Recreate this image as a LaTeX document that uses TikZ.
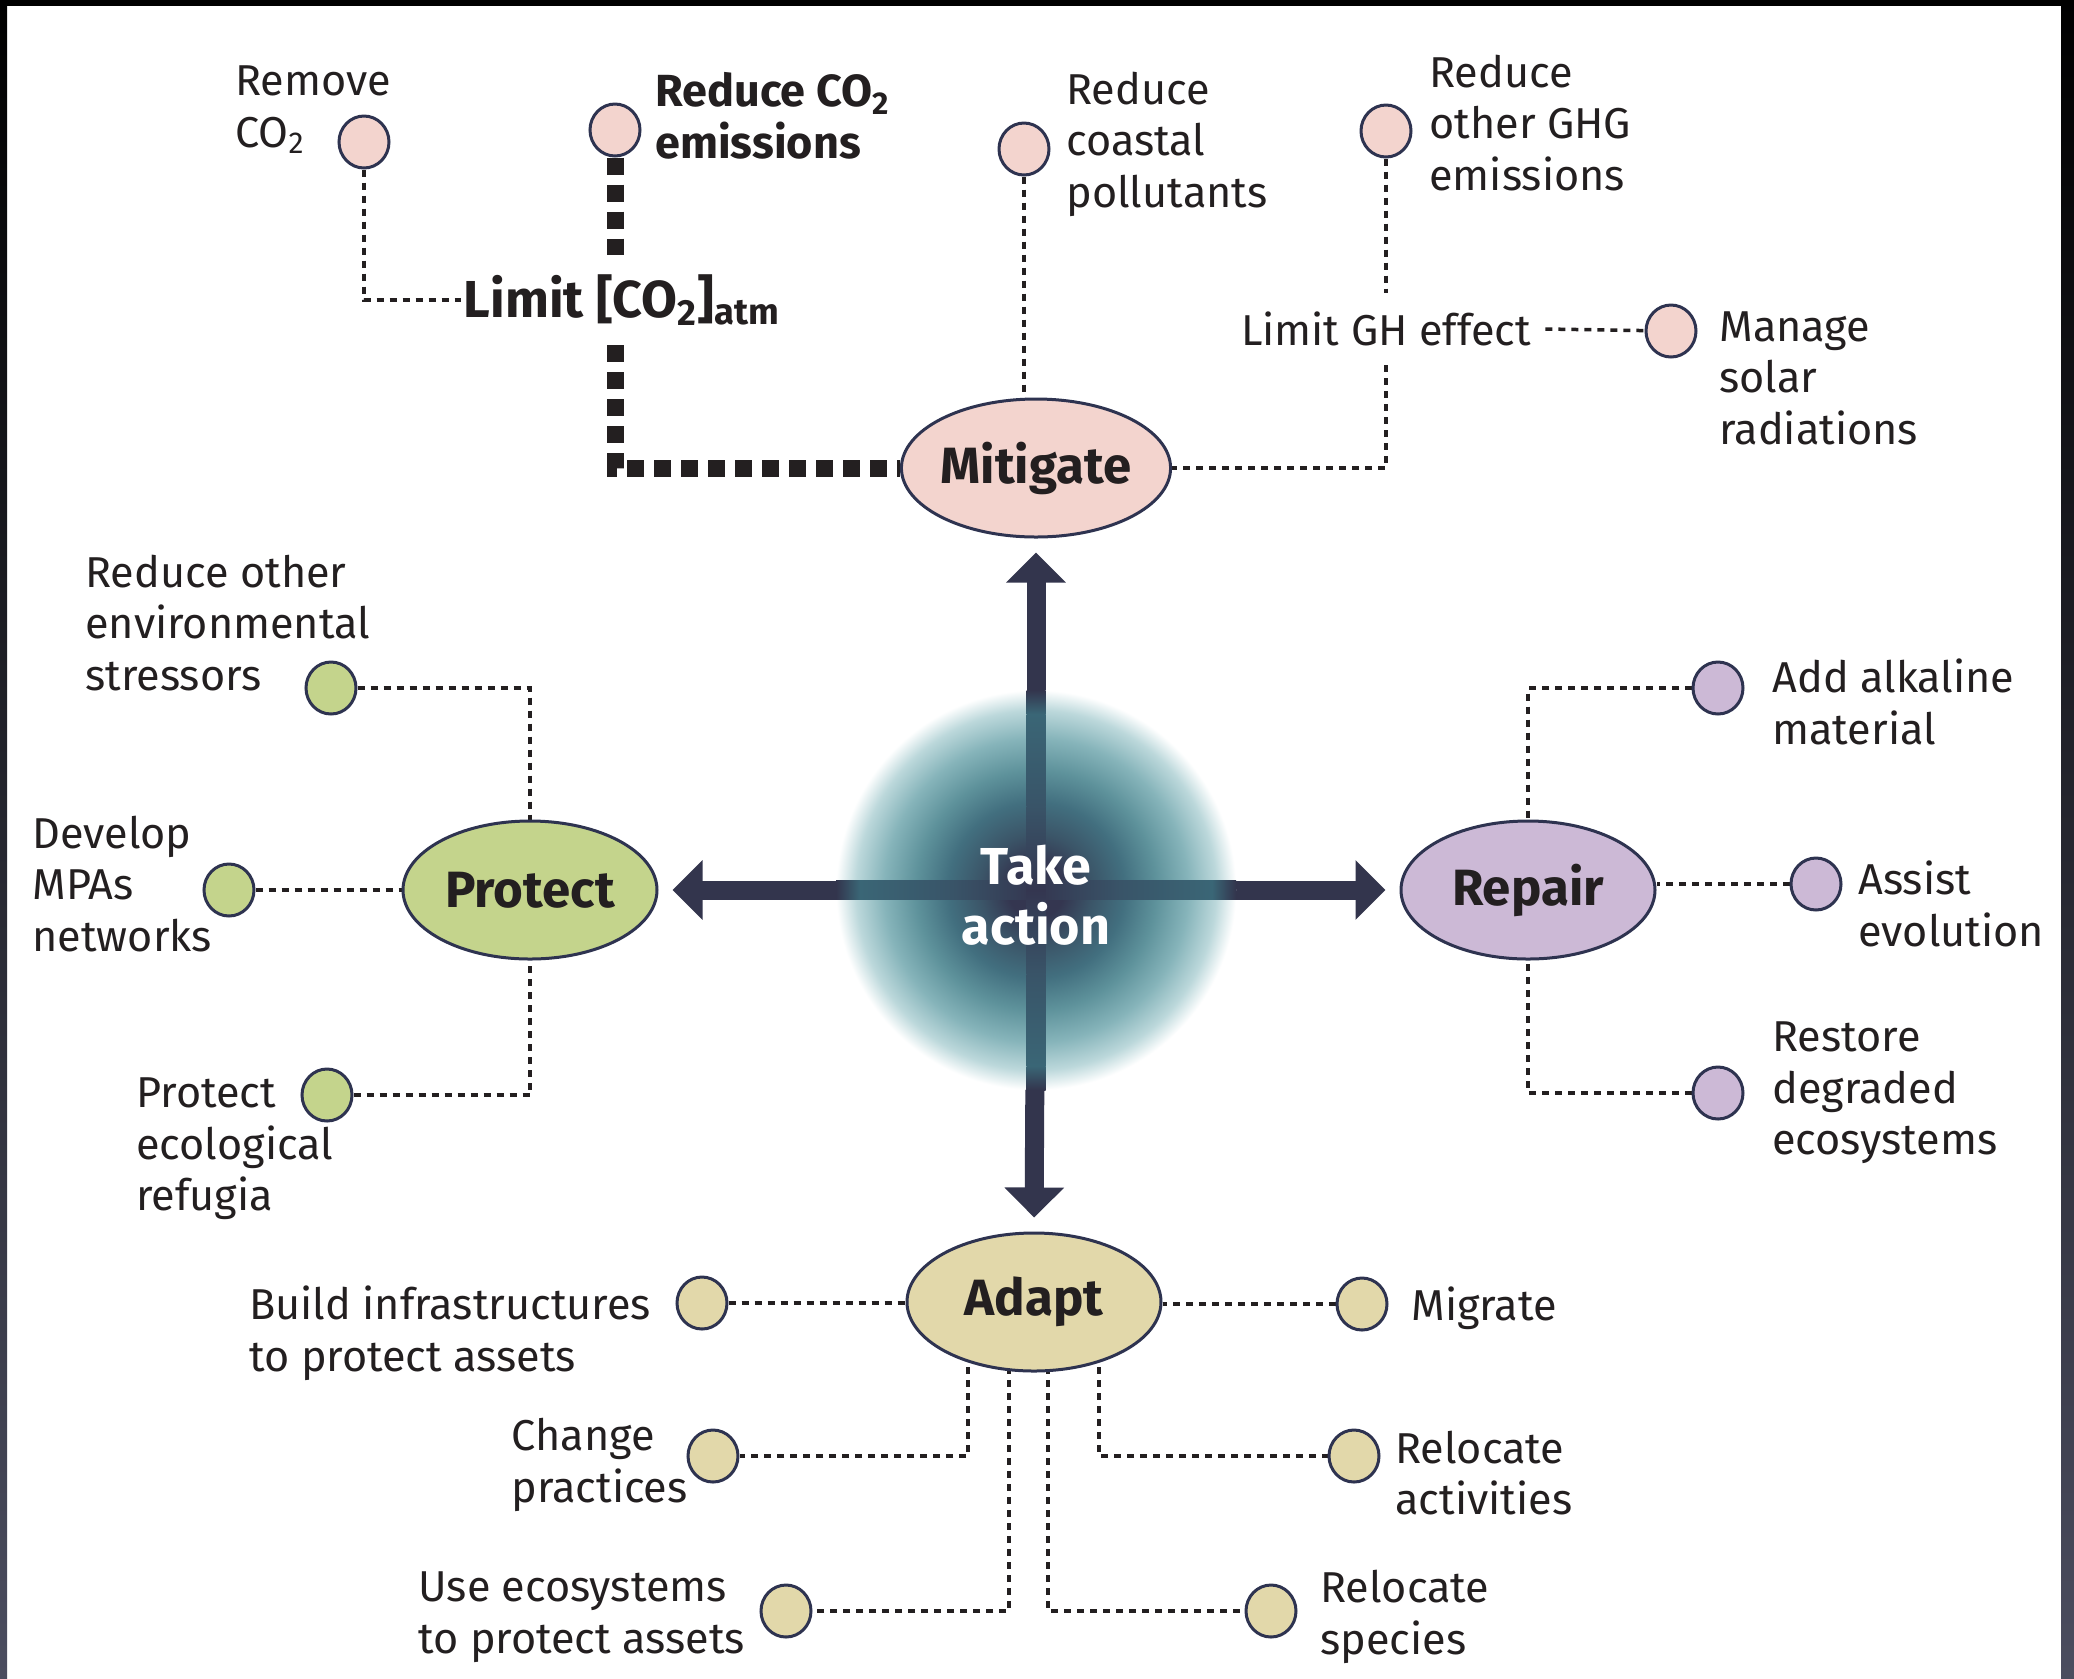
\documentclass[tikz,border=0pt]{standalone}
\usepackage{fontspec}
\setmainfont{Fira Sans}
\usetikzlibrary{arrows.meta,shapes.geometric,calc}
\pgfdeclarelayer{back}
\pgfdeclarelayer{bg}
\pgfsetlayers{back,bg,main}
\definecolor{navy}{HTML}{2E3350}
\definecolor{arrowc}{HTML}{33354D}
\definecolor{ink}{HTML}{231F20}
\definecolor{mitc}{HTML}{F3D4CE}
\definecolor{proc}{HTML}{C4D48C}
\definecolor{repc}{HTML}{CCB9D6}
\definecolor{adac}{HTML}{E2D8AA}
\definecolor{frameb}{HTML}{4B4D5F}
\definecolor{gA}{HTML}{343650}
\definecolor{gB}{HTML}{3B5568}
\definecolor{gC}{HTML}{426F7F}
\definecolor{gD}{HTML}{5E929B}
\definecolor{gE}{HTML}{86B4BA}
\definecolor{gF}{HTML}{BCD8DB}
\definecolor{sT}{HTML}{3A6676}
\definecolor{sT2}{HTML}{395468}
\pgfdeclareradialshading{glowshade}{\pgfpoint{0bp}{0bp}}{color(0bp)=(gA); color(3.5bp)=(gA); color(7bp)=(gB); color(11bp)=(gC); color(15bp)=(gD); color(19bp)=(gE); color(22.5bp)=(gF); color(25bp)=(white); color(50bp)=(white)}
\begin{document}
\begin{tikzpicture}[x=0.5pt,y=-0.5pt,
  lbl/.style={font=\fontsize{21.6}{25.8}\selectfont, text=ink, align=left, inner sep=0pt, anchor=west},
  blbl/.style={font=\fontsize{22.5}{25.8}\selectfont\bfseries, text=ink, align=left, inner sep=0pt, anchor=west},
  mainell/.style={ellipse, draw=navy, line width=1.5pt, minimum width=127pt, minimum height=69pt, inner sep=0pt, font=\fontsize{25.5}{30}\selectfont\bfseries, text=ink},
  sdot/.style={ellipse, draw=navy, line width=1.5pt, minimum width=25pt, minimum height=26pt, inner sep=0pt},
  cline/.style={draw=ink, line width=1.75pt, dash pattern=on 3.5pt off 3pt},
  cthick/.style={draw=ink, line width=8.5pt, dash pattern=on 8.5pt off 5pt},
  bigarrow/.style={draw=arrowc, line width=9.5pt, -{Triangle[length=15pt, width=29pt]}, shorten >=7pt}
]
% frame
\begin{pgfonlayer}{back}
\fill[white] (0,0) rectangle (2074,1678);
\shade[top color=black, bottom color=frameb] (0,0) rectangle (7,1678);
\shade[top color=black, bottom color=frameb] (2061,0) rectangle (2074,1678);
\fill[black] (0,0) rectangle (2074,6);
\end{pgfonlayer}
\useasboundingbox (0,0) rectangle (2074,1678);

% main ellipses
\node[mainell, fill=mitc] (Mit) at (1036,468) {Mitigate};
\node[mainell, fill=proc] (Pro) at (530,890) {Protect};
\node[mainell, fill=repc] (Rep) at (1528,890) {Repair};
\node[mainell, fill=adac] (Ada) at (1034,1302) {Adapt};

% small dots
\node[sdot, fill=mitc] (rem) at (364,142) {};
\node[sdot, fill=mitc] (rco2) at (615,130) {};
\node[sdot, fill=mitc] (coast) at (1024,149) {};
\node[sdot, fill=mitc] (ghg) at (1386,131) {};
\node[sdot, fill=mitc] (solar) at (1671,331) {};
\node[sdot, fill=proc] (env) at (331,688) {};
\node[sdot, fill=proc] (mpa) at (229,890) {};
\node[sdot, fill=proc] (refug) at (327,1095) {};
\node[sdot, fill=repc] (alk) at (1718,688) {};
\node[sdot, fill=repc] (assist) at (1816,884) {};
\node[sdot, fill=repc] (restore) at (1718,1093) {};
\node[sdot, fill=adac] (build) at (702,1303) {};
\node[sdot, fill=adac] (migr) at (1362,1304) {};
\node[sdot, fill=adac] (change) at (713,1456) {};
\node[sdot, fill=adac] (relact) at (1354,1456) {};
\node[sdot, fill=adac] (useeco) at (786,1611) {};
\node[sdot, fill=adac] (relsp) at (1271,1611) {};

% intermediate labels
\node[font=\fontsize{26}{28}\selectfont\bfseries, text=ink, inner xsep=1pt, inner ysep=0pt, minimum height=45pt] (lim) at (622,300) {Limit [CO\textsubscript{2}]\textsubscript{atm}};
\node[font=\fontsize{21.6}{25.8}\selectfont, text=ink, inner xsep=7pt, inner ysep=0pt, minimum height=36pt] (ghe) at (1386,329) {Limit GH effect};

% labels
\node[lbl] (t-rem) at (235,110) {Remove\\CO\textsubscript{2}};
\node[blbl] (t-rco2) at (655,116) {Reduce CO\textsubscript{2}\\emissions};
\node[lbl] (t-coast) at (1066,144) {Reduce\\coastal\\pollutants};
\node[lbl] (t-ghg) at (1429,123) {Reduce\\other GHG\\emissions};
\node[lbl] (t-solar) at (1719,378) {Manage\\solar\\radiations};
\node[lbl] (t-env) at (85,623) {Reduce other\\environmental\\stressors};
\node[lbl] (t-mpa) at (32,884) {Develop\\MPAs\\networks};
\node[lbl] (t-refug) at (136,1149) {Protect\\ecological\\refugia};
\node[lbl] (t-alk) at (1772,702) {Add alkaline\\material};
\node[lbl] (t-assist) at (1858,904) {Assist\\evolution};
\node[lbl] (t-restore) at (1772,1093) {Restore\\degraded\\ecosystems};
\node[lbl] (t-build) at (249,1333) {Build infrastructures\\to protect assets};
\node[lbl] (t-migr) at (1411,1308) {Migrate};
\node[lbl] (t-change) at (511,1465) {Change\\practices};
\node[lbl] (t-relact) at (1395,1473) {Relocate\\activities};
\node[lbl] (t-useeco) at (418,1617) {Use ecosystems\\to protect assets};
\node[lbl] (t-relsp) at (1320,1617) {Relocate\\species};

\begin{pgfonlayer}{bg}
% mitigate branch
\draw[cline] (rem) |- (lim.west);
\draw[cthick] (rco2) -- (rco2 |- lim.north);
\draw[cthick] (rco2 |- lim.south) |- (Mit.west);
\draw[cline] (coast) -- (coast |- Mit.north);
\draw[cline] (ghg) -- (ghg |- ghe.north);
\draw[cline] (ghg |- ghe.south) |- (Mit.east);
\draw[cline] (ghe.east) -- (solar);
% protect branch
\draw[cline] (env) -| (Pro.north);
\draw[cline] (mpa) -- (Pro.west);
\draw[cline] (refug) -| (Pro.south);
% repair branch
\draw[cline] (alk) -| (Rep.north);
\draw[cline] (assist) -- (assist -| Rep.east);
\draw[cline] (restore) -| (Rep.south);
% adapt branch
\draw[cline] (build) -- (build -| Ada.west);
\draw[cline] (migr) -- (migr -| Ada.east);
\draw[cline] ([xshift=-33pt]Ada.center) |- (change);
\draw[cline] ([xshift=-12.5pt]Ada.center) |- (useeco);
\draw[cline] ([xshift=7pt]Ada.center) |- (relsp);
\draw[cline] ([xshift=32.5pt]Ada.center) |- (relact);
\end{pgfonlayer}

% big arrows
\coordinate (C) at (Mit.south |- Pro.east);
\draw[bigarrow] (C) -- (Mit.south);
\draw[bigarrow] (C) -- (Ada.north);
\draw[bigarrow] (C) -- (Pro.east);
\draw[bigarrow] (C) -- (Rep.west);
% glow
\shade[shading=glowshade] (C) circle (100pt);
% arrow shafts seen through the glow
\shade[left color=arrowc, right color=sT] ($(C)+(-100pt,-4.75pt)$) rectangle ($(C)+(-88pt,4.75pt)$);
\shade[left color=sT, right color=sT2] ($(C)+(-88pt,-4.75pt)$) rectangle ($(C)+(-42pt,4.75pt)$);
\shade[left color=sT2, right color=gA] ($(C)+(-42pt,-4.75pt)$) rectangle ($(C)+(0pt,4.75pt)$);
\shade[left color=gA, right color=sT2] ($(C)+(0pt,-4.75pt)$) rectangle ($(C)+(42pt,4.75pt)$);
\shade[left color=sT2, right color=sT] ($(C)+(42pt,-4.75pt)$) rectangle ($(C)+(88pt,4.75pt)$);
\shade[left color=sT, right color=arrowc] ($(C)+(88pt,-4.75pt)$) rectangle ($(C)+(100pt,4.75pt)$);
\shade[bottom color=gA, top color=sT2] ($(C)+(-4.75pt,0pt)$) rectangle ($(C)+(4.75pt,42pt)$);
\shade[bottom color=sT2, top color=sT] ($(C)+(-4.75pt,42pt)$) rectangle ($(C)+(4.75pt,88pt)$);
\shade[bottom color=sT, top color=arrowc] ($(C)+(-4.75pt,88pt)$) rectangle ($(C)+(4.75pt,100pt)$);
\shade[top color=gA, bottom color=sT2] ($(C)+(-4.75pt,-42pt)$) rectangle ($(C)+(4.75pt,0pt)$);
\shade[top color=sT2, bottom color=sT] ($(C)+(-4.75pt,-88pt)$) rectangle ($(C)+(4.75pt,-42pt)$);
\shade[top color=sT, bottom color=arrowc] ($(C)+(-4.75pt,-100pt)$) rectangle ($(C)+(4.75pt,-88pt)$);
\node[font=\fontsize{26}{30}\selectfont\bfseries, text=white, align=center, inner sep=0pt] (TA) at (1036,895) {Take\\action};
\end{tikzpicture}
\end{document}
